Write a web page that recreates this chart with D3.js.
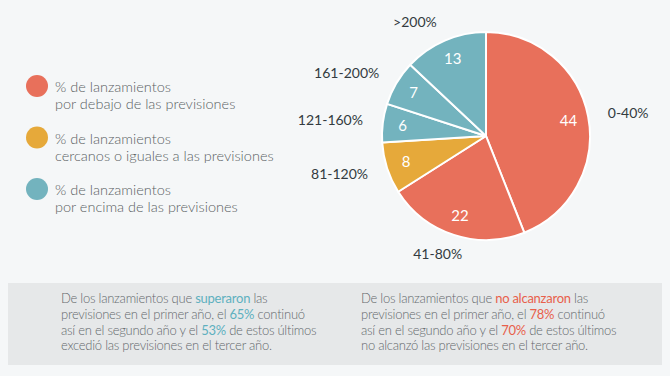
<!DOCTYPE html>
<html>
<head>
<meta charset="utf-8">
<script src="https://cdn.jsdelivr.net/npm/d3@7"></script>
<style>
  body { margin: 0; background: #f5f7f8; }
  svg { display: block; font-family: Lato, "Open Sans", sans-serif; }
</style>
</head>
<body>
<svg id="chart" width="670" height="376"></svg>
<script>
// slices, clockwise from 12 o'clock
const ranges = ["0-40%", "41-80%", "81-120%", "121-160%", "161-200%", ">200%"];
const values = [44, 22, 8, 6, 7, 13];
const groups = ["below", "below", "near", "above", "above", "above"];

const groupNames = ["below", "near", "above"];
const groupColors = ["#e8705b", "#e6a93a", "#73b3be"];
const legendLines = [
    ["% de lanzamientos", "por debajo de las previsiones"],
    ["% de lanzamientos", "cercanos o iguales a las previsiones"],
    ["% de lanzamientos", "por encima de las previsiones"]
];

const notes = [
    [[["De los lanzamientos que ", 0], ["superaron", 1], [" las", 0]],
     [["previsiones en el primer año, el ", 0], ["65%", 1], [" continuó", 0]],
     [["así en el segundo año y el ", 0], ["53%", 1], [" de estos últimos", 0]],
     [["excedió las previsiones en el tercer año.", 0]]],
    [[["De los lanzamientos que ", 0], ["no alcanzaron", 2], [" las", 0]],
     [["previsiones en el primer año, el ", 0], ["78%", 2], [" continuó", 0]],
     [["así en el segundo año y el ", 0], ["70%", 2], [" de estos últimos", 0]],
     [["no alcanzó las previsiones en el tercer año.", 0]]]
];

const svg = d3.select("#chart");
const color = d3.scaleOrdinal().domain(groupNames).range(groupColors);

// Pie
const cx = 486, cy = 136, r = 104;
const pie = d3.pie().sort(null).value(d => d)(values);
const arc = d3.arc().innerRadius(0).outerRadius(r);
const inner = d3.arc().innerRadius(84).outerRadius(84);
const outer = d3.arc().innerRadius(124).outerRadius(124);

const g = svg.append("g").attr("transform", `translate(${cx},${cy})`);

g.selectAll("path")
    .data(pie)
    .enter()
    .append("path")
    .attr("d", arc)
    .attr("fill", (d, i) => color(groups[i]))
    .attr("stroke", "#fff")
    .attr("stroke-width", 2);

g.selectAll(".val")
    .data(pie)
    .enter()
    .append("text")
    .attr("class", "val")
    .attr("transform", d => `translate(${inner.centroid(d)})`)
    .attr("text-anchor", "middle")
    .attr("dy", "0.35em")
    .attr("fill", "#fff")
    .attr("font-size", 15)
    .text(d => d.data);

g.selectAll(".rng")
    .data(pie)
    .enter()
    .append("text")
    .attr("class", "rng")
    .attr("transform", d => `translate(${outer.centroid(d)})`)
    .attr("text-anchor", d => {
        const s = Math.sin((d.startAngle + d.endAngle) / 2);
        return s > 0.35 ? "start" : (s < -0.35 ? "end" : "middle");
    })
    .attr("dx", d => Math.abs(Math.sin((d.startAngle + d.endAngle) / 2)) <= 0.35 ? -10 : 0)
    .attr("dy", "0.35em")
    .attr("fill", "#333b40")
    .attr("font-size", 14)
    .text((d, i) => ranges[i]);

// Legend
const legend = svg.selectAll(".leg")
    .data(groupNames)
    .enter()
    .append("g")
    .attr("class", "leg")
    .attr("transform", (d, i) => `translate(37,${86 + i * 51.5})`);

legend.append("circle")
    .attr("r", 11)
    .attr("fill", d => color(d));

legend.each(function(d, i) {
    const t = d3.select(this).append("text")
        .attr("fill", "#5a5f63")
        .attr("font-size", 14.5)
        .attr("font-weight", 300);
    legendLines[i].forEach((line, j) => {
        t.append("tspan").attr("x", 18).attr("y", 6 + j * 17).text(line);
    });
});

// Notes box
svg.append("rect")
    .attr("x", 8).attr("y", 283)
    .attr("width", 654).attr("height", 82)
    .attr("fill", "#e6e8e9");

const noteColors = ["#65696d", "#5eb0bf", "#e8604b"];
notes.forEach((lines, k) => {
    const t = svg.append("text")
        .attr("font-size", 13)
        .attr("font-weight", 300)
        .attr("letter-spacing", -0.25);
    lines.forEach((parts, j) => {
        parts.forEach(([txt, c], p) => {
            const ts = t.append("tspan")
                .attr("fill", noteColors[c])
                .attr("font-weight", c ? 400 : 300)
                .text(txt);
            if (p === 0) ts.attr("x", 61 + k * 300).attr("y", 303 + j * 15.8);
        });
    });
});
</script>
</body>
</html>
